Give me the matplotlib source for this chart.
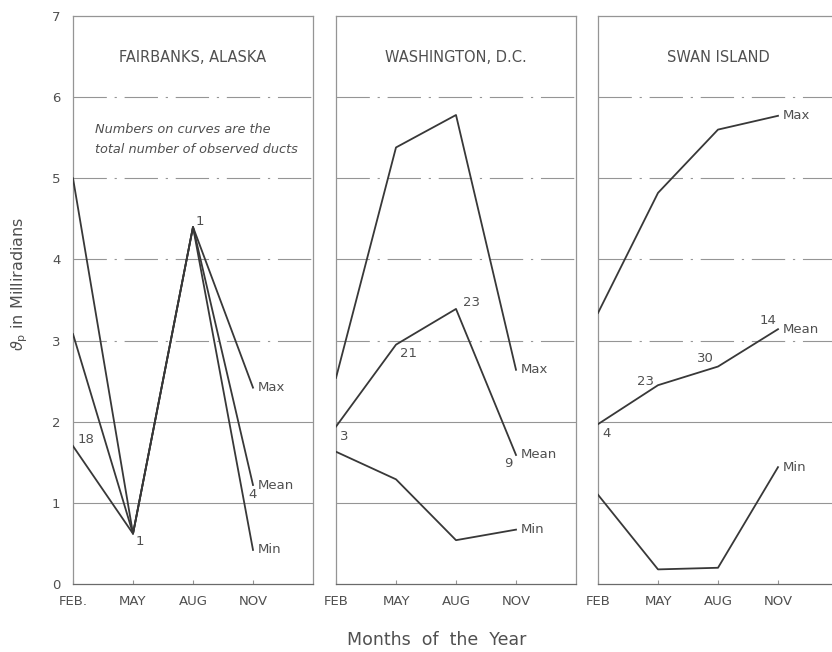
import matplotlib.pyplot as plt
import numpy as np

# months along the x axis
months = ["FEB", "MAY", "AUG", "NOV"]
months_first = ["FEB.", "MAY", "AUG", "NOV"]
stations = ["FAIRBANKS, ALASKA", "WASHINGTON, D.C.", "SWAN ISLAND"]

# theta_p (milliradians)
fairbanks_max = [5.0, 0.62, 4.40, 2.42]
fairbanks_mean = [3.08, 0.62, 4.40, 1.22]
fairbanks_min = [1.70, 0.62, 4.40, 0.42]

washington_max = [2.54, 5.38, 5.78, 2.64]
washington_mean = [1.94, 2.95, 3.39, 1.59]
washington_min = [1.63, 1.29, 0.54, 0.67]

swan_max = [3.34, 4.82, 5.60, 5.77]
swan_mean = [1.97, 2.45, 2.68, 3.14]
swan_min = [1.10, 0.18, 0.20, 1.44]

# number of observed ducts written on the curves (label, x, y)
fairbanks_counts = [("18", 0.22, 1.78), ("1", 1.12, 0.52), ("1", 2.12, 4.47), ("4", 3.0, 1.1)]
washington_counts = [("3", 0.14, 1.82), ("21", 1.21, 2.84), ("23", 2.25, 3.47), ("9", 2.87, 1.49)]
swan_counts = [("4", 0.14, 1.86), ("23", 0.79, 2.5), ("30", 1.79, 2.78), ("14", 2.83, 3.25)]

series = [
    (fairbanks_max, fairbanks_mean, fairbanks_min),
    (washington_max, washington_mean, washington_min),
    (swan_max, swan_mean, swan_min),
]
counts = [fairbanks_counts, washington_counts, swan_counts]

ink = "#383838"
txt = "#505050"
grid = "#959595"

fig = plt.figure(figsize=(8.32, 6.52), dpi=100)
plt.rcParams['font.family'] = ['DejaVu Sans']

lefts = [73 / 832, 336 / 832, 598 / 832]
bottom = 1 - 584 / 652
height = (584 - 16) / 652
width = 240 / 832

x = np.arange(len(months))

for i in range(3):
    ax = fig.add_axes([lefts[i], bottom, width, height])
    ax.set_xlim(0, 4)
    ax.set_ylim(0, 7)

    # horizontal guide lines
    for g in range(1, 7):
        if g <= 2:
            ax.axhline(g, color=grid, lw=0.8, zorder=1)
        else:
            ax.axhline(g, color=grid, lw=0.8, dashes=(30, 7, 2, 7), zorder=1)

    smax, smean, smin = series[i]
    for vals, name in [(smax, "Max"), (smean, "Mean"), (smin, "Min")]:
        ax.plot(x, vals, color=ink, lw=1.3, zorder=3)
        ax.text(3.08, vals[-1], name, fontsize=9.5, color=txt, va='center', ha='left')

    for lab, lx, ly in counts[i]:
        ax.text(lx, ly, lab, fontsize=9.5, color=txt, ha='center', va='center')

    ax.text(2.0, 6.49, stations[i], fontsize=10.5, color=txt, ha='center', va='center')

    for s in ax.spines.values():
        s.set_color(grid)
        s.set_linewidth(0.9)
    ax.spines['bottom'].set_color("#6a6a6a")

    ax.set_xticks(x)
    ax.set_xticklabels(months_first if i == 0 else months, fontsize=9.5, color=txt)
    ax.tick_params(axis='x', direction='in', length=3, color=grid, pad=8)
    if i == 0:
        ax.set_yticks(range(8))
        ax.set_yticklabels([str(v) for v in range(8)], fontsize=9.5, color=txt)
        ax.tick_params(axis='y', length=0, pad=9)
        ax.text(0.37, 5.6, "Numbers on curves are the", fontsize=9.3, style='italic', color=txt, va='center')
        ax.text(0.37, 5.36, "total number of observed ducts", fontsize=9.3, style='italic', color=txt, va='center')
    else:
        ax.set_yticks([])

fig.text(20 / 832, 1 - 284 / 652, r"$\vartheta_{\rm p}$ in Milliradians", rotation=90,
         fontsize=11.5, color=txt, ha='center', va='center')
fig.text(437 / 832, 1 - 640 / 652, "Months  of  the  Year", fontsize=12.5, color=txt,
         ha='center', va='center')

fig.savefig("out.png", dpi=100)
